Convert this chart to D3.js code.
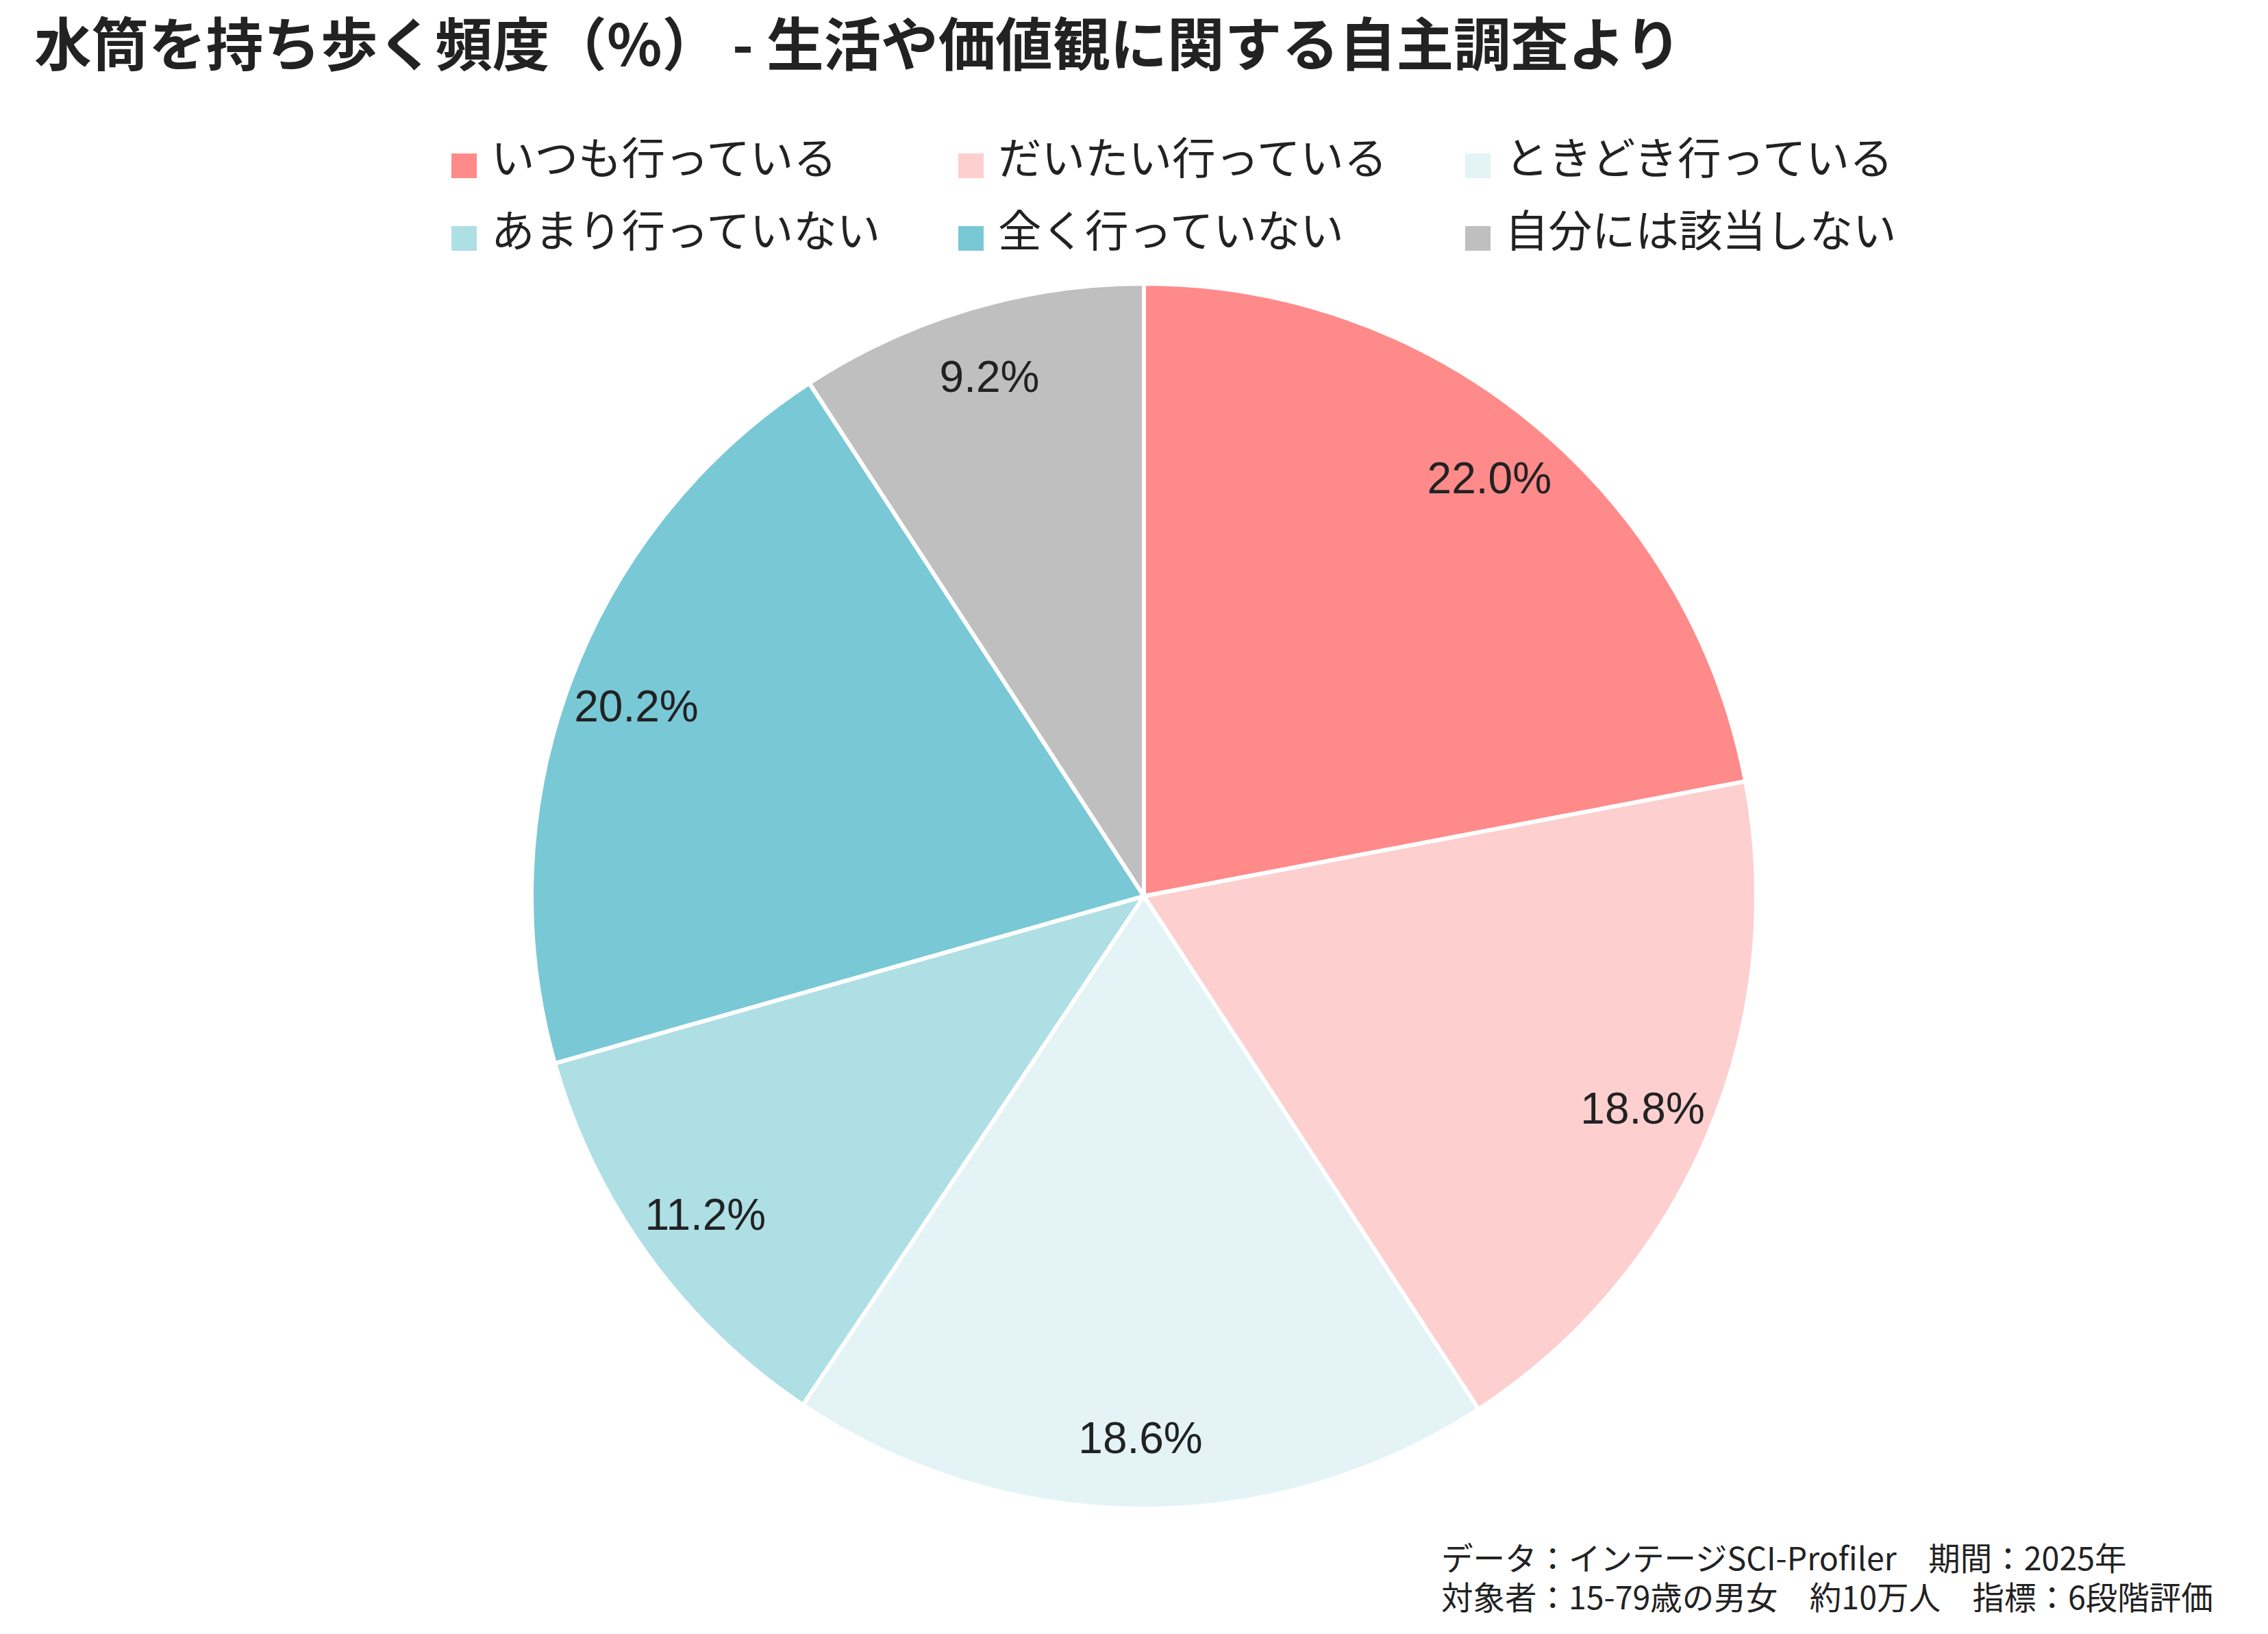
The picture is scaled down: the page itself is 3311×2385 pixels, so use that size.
<!DOCTYPE html>
<html>
<head>
<meta charset="utf-8">
<script src="https://cdn.jsdelivr.net/npm/d3@7"></script>
<style>
  html, body { margin: 0; padding: 0; background: #ffffff; }
  svg { display: block; }
</style>
</head>
<body>
<svg id="chart" width="3311" height="2385"></svg>
<script>
const titleText = "水筒を持ち歩く頻度（%） - 生活や価値観に関する自主調査より";
const categories = ["いつも行っている", "だいたい行っている", "ときどき行っている", "あまり行っていない", "全く行っていない", "自分には該当しない"];
const values = [22.0, 18.8, 18.6, 11.2, 20.2, 9.2];
const sliceColors = ["#FF8A8A", "#FDCFCF", "#E3F3F6", "#AEDFE5", "#79C8D6", "#BFBFBF"];
const footerLines = ["データ：インテージSCI-Profiler　期間：2025年", "対象者：15-79歳の男女　約10万人　指標：6段階評価"];

const W = 3311, H = 2385;
const svg = d3.select("#chart");
const jp = "'Noto Sans CJK JP', 'Noto Sans', sans-serif";
const latin = "'Liberation Sans', Arial, 'Noto Sans CJK JP', sans-serif";
const ink = "#222222";

// Title
svg.append("text")
  .attr("x", 50).attr("y", 96)
  .attr("font-family", jp).attr("font-weight", 700)
  .attr("font-size", 83.6).attr("fill", ink)
  .text(titleText);

// Legend
const colX = d3.scaleLinear().domain([0, 1]).range([659, 1399]);
const rowY = d3.scaleLinear().domain([0, 1]).range([242, 348]);
const legend = svg.append("g");
const items = legend.selectAll("g").data(categories).join("g")
  .attr("transform", (d, i) => `translate(${colX(i % 3)},${rowY(Math.floor(i / 3))})`);
items.append("rect")
  .attr("x", 0).attr("y", -18).attr("width", 37).attr("height", 36)
  .attr("fill", (d, i) => sliceColors[i]);
items.append("text")
  .attr("x", 58).attr("y", 12)
  .attr("font-family", jp).attr("font-size", 63.5).attr("fill", ink)
  .text(d => d);

// Pie
const cx = 1670, cy = 1308, R = 894;
const pie = d3.pie().sort(null).value(d => d).startAngle(0).endAngle(2 * Math.PI);
const arcs = pie(values);
const arc = d3.arc().innerRadius(0).outerRadius(R);
const labelArc = d3.arc().innerRadius(R * 0.885).outerRadius(R * 0.885);
const g = svg.append("g").attr("transform", `translate(${cx},${cy})`);
g.selectAll("path").data(arcs).join("path")
  .attr("d", arc)
  .attr("fill", (d, i) => sliceColors[i])
  .attr("stroke", "#ffffff").attr("stroke-width", 6).attr("stroke-linejoin", "round");
g.selectAll("text").data(arcs).join("text")
  .attr("transform", d => `translate(${labelArc.centroid(d)})`)
  .attr("text-anchor", "middle").attr("dominant-baseline", "central")
  .attr("font-family", latin).attr("font-size", 64).attr("fill", ink)
  .text(d => d.data.toFixed(1) + "%");

// Footer
svg.append("g").selectAll("text").data(footerLines).join("text")
  .attr("x", 2104).attr("y", (d, i) => 2292 + i * 57)
  .attr("font-family", jp).attr("font-size", 46.5).attr("fill", ink)
  .text(d => d);
</script>
</body>
</html>
